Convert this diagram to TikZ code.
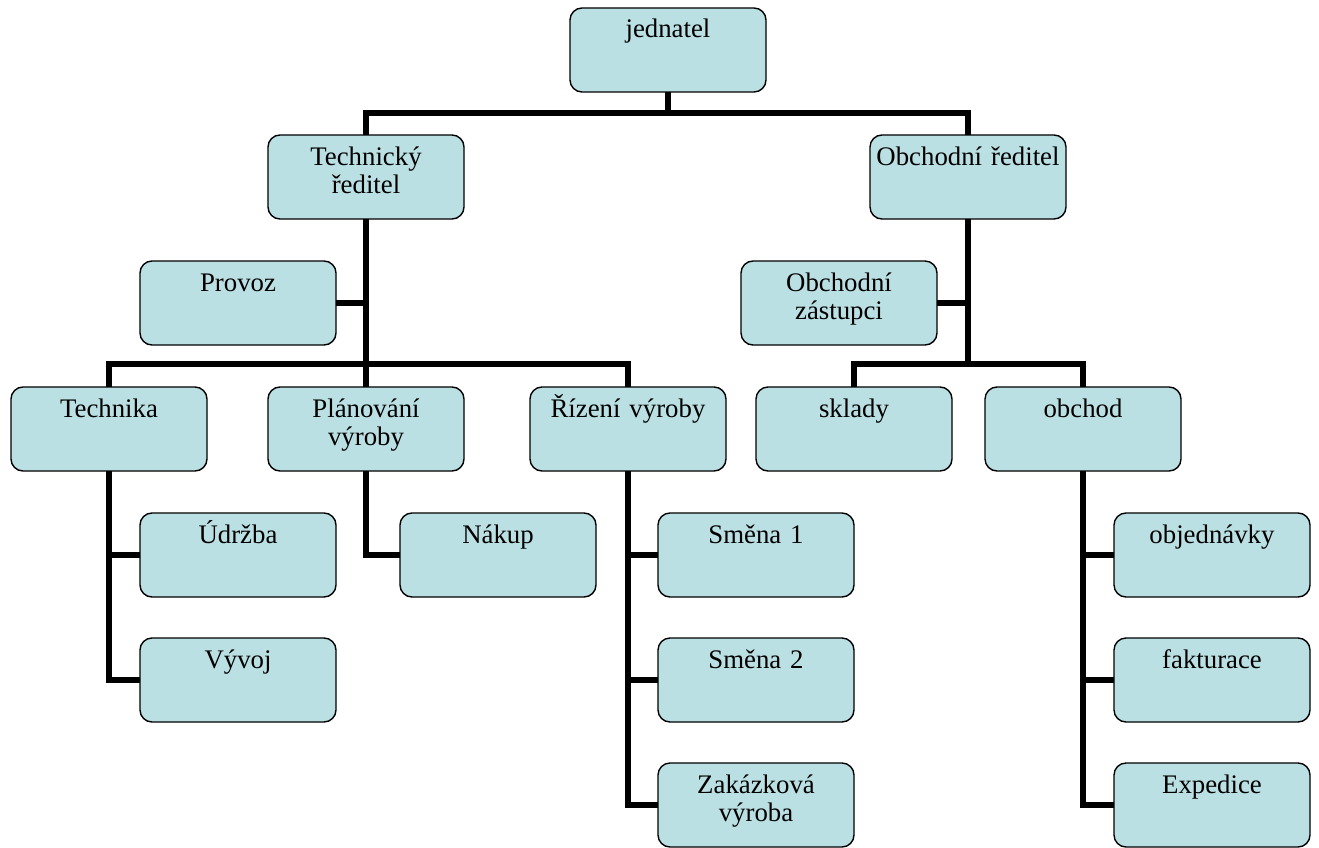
\documentclass[tikz,border=0pt]{standalone}
\usepackage{fontspec}
\setmainfont{Liberation Serif}
\begin{document}
\begin{tikzpicture}[x=1pt,y=-1pt,
  unit/.style={draw=black, line width=1.4pt, fill=boxfill, rounded corners=12pt,
    minimum width=196pt, minimum height=84pt, inner sep=0pt, outer sep=0pt,
    anchor=north west},
  unittext/.style={anchor=base, text width=192pt, align=center, inner sep=0pt,
    font=\fontsize{26.8}{28}\selectfont},
  link/.style={line width=5.5pt, line join=miter}]
\definecolor{boxfill}{HTML}{BBE0E3}
\useasboundingbox (0,0) rectangle (1319,848);

% box with its caption set near the top edge
\newcommand\orgbox[4]{%
  \node[unit] (#1) at (#2,#3) {};
  \node[unittext] (#1-t) at ([yshift=-30pt]#1.north) {#4};
}

\orgbox{jed}{570}{8}{jednatel}
\orgbox{tech}{268}{135}{Technický\\ředitel}
\orgbox{obch}{870}{135}{Obchodní ředitel}
\orgbox{provoz}{140}{261}{Provoz}
\orgbox{zast}{741}{261}{Obchodní\\zástupci}
\orgbox{technika}{11}{387}{Technika}
\orgbox{plan}{268}{387}{Plánování\\výroby}
\orgbox{rizeni}{530}{387}{Řízení výroby}
\orgbox{sklady}{756}{387}{sklady}
\orgbox{obchod}{985}{387}{obchod}
\orgbox{udrzba}{140}{513}{Údržba}
\orgbox{nakup}{400}{513}{Nákup}
\orgbox{smena1}{658}{513}{Směna 1}
\orgbox{objed}{1114}{513}{objednávky}
\orgbox{vyvoj}{140}{638}{Vývoj}
\orgbox{smena2}{658}{638}{Směna 2}
\orgbox{fakt}{1114}{638}{fakturace}
\orgbox{zakaz}{658}{763}{Zakázková\\výroba}
\orgbox{exped}{1114}{763}{Expedice}

% top level
\draw[link] (jed.south) -- ++(0,21) coordinate (topbus);
\draw[link] (tech.north) |- (topbus) -| (obch.north);

% technical branch
\draw[link] (tech.south) -- ++(0,145) coordinate (tbus) -- (plan.north);
\draw[link] (technika.north) |- (tbus) -| (rizeni.north);
\draw[link] (provoz.east) -- (provoz.east -| tech.south);

% commercial branch
\draw[link] (obch.south) -- ++(0,145) coordinate (obus);
\draw[link] (sklady.north) |- (obus) -| (obchod.north);
\draw[link] (zast.east) -- (zast.east -| obch.south);

% third level
\draw[link] (technika.south) |- (udrzba.west);
\draw[link] (technika.south) |- (vyvoj.west);
\draw[link] (plan.south) |- (nakup.west);
\draw[link] (rizeni.south) |- (smena1.west);
\draw[link] (rizeni.south) |- (smena2.west);
\draw[link] (rizeni.south) |- (zakaz.west);
\draw[link] (obchod.south) |- (objed.west);
\draw[link] (obchod.south) |- (fakt.west);
\draw[link] (obchod.south) |- (exped.west);
\end{tikzpicture}
\end{document}
